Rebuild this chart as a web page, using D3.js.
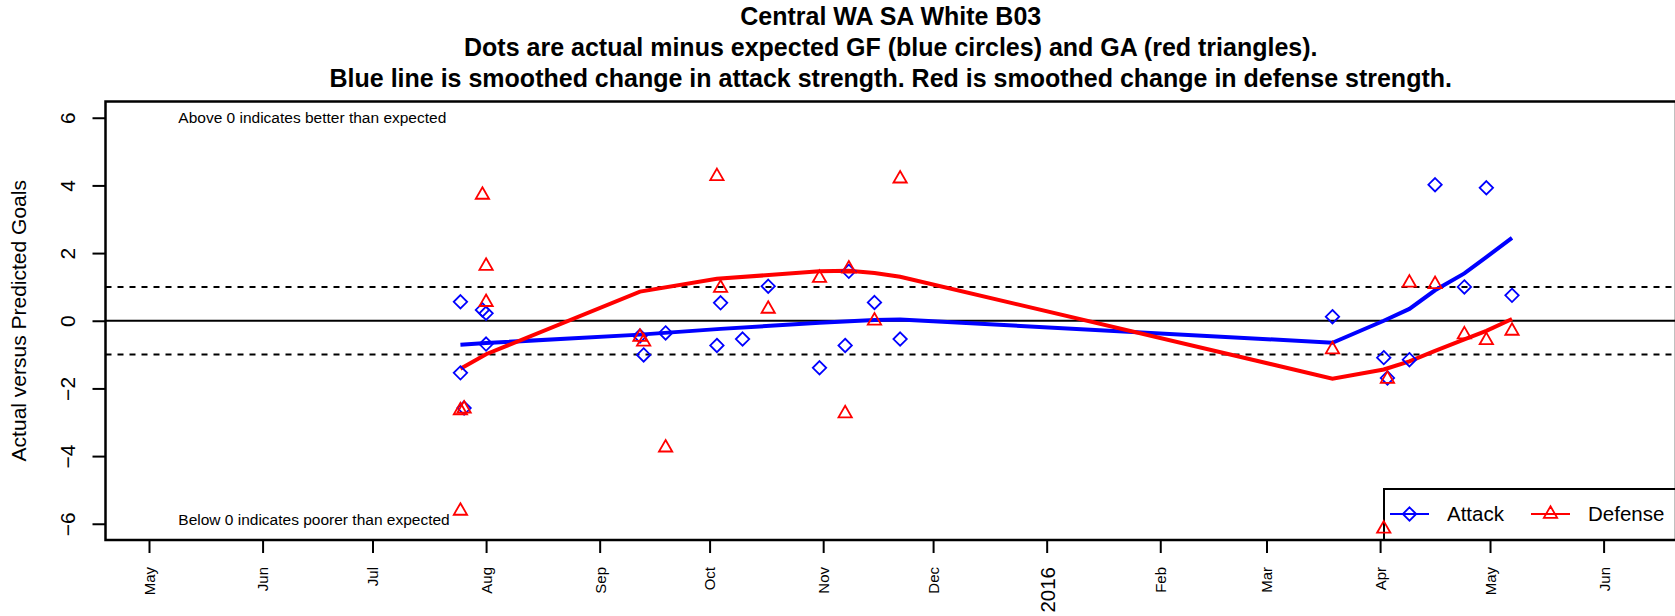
<!DOCTYPE html>
<html>
<head>
<meta charset="utf-8">
<script src="https://cdn.jsdelivr.net/npm/d3@7"></script>
<style>
  body { margin: 0; background: #fff; }
  svg text { font-family: "Liberation Sans", Arial, sans-serif; }
</style>
</head>
<body>
<svg id="chart" width="1675" height="616"></svg>
<script>
// dots: actual minus expected goals for / against
const attackDates = ['2015-07-25', '2015-07-25', '2015-07-26', '2015-07-31', '2015-08-01', '2015-08-01',
    '2015-09-12', '2015-09-13', '2015-09-19', '2015-10-03', '2015-10-04', '2015-10-10', '2015-10-17',
    '2015-10-31', '2015-11-07', '2015-11-08', '2015-11-15', '2015-11-22', '2016-03-19', '2016-04-02',
    '2016-04-03', '2016-04-09', '2016-04-16', '2016-04-24', '2016-04-30', '2016-05-07'];
const attackValues = [0.56, -1.54, -2.58, 0.32, 0.22, -0.69,
    -0.45, -1.01, -0.36, -0.73, 0.53, -0.54, 1.02,
    -1.39, -0.73, 1.46, 0.54, -0.54, 0.12, -1.09,
    -1.69, -1.15, 4.02, 1.0, 3.93, 0.75];

const defenseDates = ['2015-07-25', '2015-07-25', '2015-07-26', '2015-07-31', '2015-08-01', '2015-08-01',
    '2015-09-12', '2015-09-13', '2015-09-19', '2015-10-03', '2015-10-04', '2015-10-17',
    '2015-10-31', '2015-11-07', '2015-11-08', '2015-11-15', '2015-11-22', '2016-03-19', '2016-04-02',
    '2016-04-03', '2016-04-09', '2016-04-16', '2016-04-24', '2016-04-30', '2016-05-07'];
const defenseValues = [-2.65, -5.62, -2.6, 3.72, 1.62, 0.55,
    -0.48, -0.62, -3.75, 4.27, 0.97, 0.35,
    1.26, -2.74, 1.54, 0.0, 4.2, -0.85, -6.15,
    -1.72, 1.12, 1.08, -0.41, -0.58, -0.3];

// smoothed strength changes
const attackLineDates = ['2015-07-25', '2015-08-01', '2015-09-12', '2015-10-04', '2015-10-31', '2015-11-15',
    '2015-11-22', '2016-03-19', '2016-04-02', '2016-04-09', '2016-04-16', '2016-04-24', '2016-04-30', '2016-05-07'];
const attackLineValues = [-0.71, -0.66, -0.41, -0.24, -0.06, 0.02,
    0.04, -0.65, 0.0, 0.35, 0.9, 1.4, 1.88, 2.45];

const defenseLineDates = ['2015-07-25', '2015-08-01', '2015-09-12', '2015-10-03', '2015-10-31', '2015-11-08',
    '2015-11-15', '2015-11-22', '2016-03-19', '2016-04-02', '2016-04-09', '2016-04-16', '2016-04-24', '2016-04-30', '2016-05-07'];
const defenseLineValues = [-1.42, -0.99, 0.86, 1.24, 1.46, 1.48,
    1.41, 1.3, -1.71, -1.44, -1.2, -0.89, -0.55, -0.3, 0.05];

const yTicks = [-6, -4, -2, 0, 2, 4, 6];
const refLines = [-1, 1];
const titleLines = [
    'Central WA SA White B03',
    'Dots are actual minus expected GF (blue circles) and GA (red triangles).',
    'Blue line is smoothed change in attack strength. Red is smoothed change in defense strength.'
];

const parse = d3.utcParse('%Y-%m-%d');
const box = {left: 105.5, right: 1676, top: 101.5, bottom: 540};

const svg = d3.select('#chart');

const x = d3.scaleUtc()
    .domain([parse('2015-05-01'), parse('2016-06-01')])
    .range([149, 1603.6]);
const y = d3.scaleLinear()
    .domain([-6.48, 6.48])
    .range([box.bottom, box.top]);

// titles
svg.append('g')
    .selectAll('text')
    .data(titleLines)
    .enter()
        .append('text')
            .attr('x', (box.left + box.right) / 2)
            .attr('y', (d, i) => 25 + i * 31)
            .attr('text-anchor', 'middle')
            .attr('font-weight', 'bold')
            .attr('font-size', 25)
            .text((d) => d);

// reference lines
svg.append('line')
    .attr('x1', box.left).attr('x2', box.right)
    .attr('y1', y(0)).attr('y2', y(0))
    .attr('stroke', '#000').attr('stroke-width', 2);

svg.selectAll('.ref')
    .data(refLines)
    .enter()
        .append('line')
            .attr('class', 'ref')
            .attr('x1', box.left).attr('x2', box.right)
            .attr('y1', (d) => y(d)).attr('y2', (d) => y(d))
            .attr('stroke', '#000').attr('stroke-width', 2)
            .attr('stroke-dasharray', '6,6');

// y axis
const yAxis = svg.append('g')
    .attr('transform', `translate(${box.left}, 0)`)
    .call(d3.axisLeft(y).tickValues(yTicks).tickSize(13).tickFormat((d) => d < 0 ? '\u2212' + Math.abs(d) : d));
yAxis.select('.domain').remove();
yAxis.selectAll('.tick line').attr('stroke-width', 2);
yAxis.selectAll('.tick text')
    .attr('font-size', 21)
    .attr('fill', '#000')
    .attr('text-anchor', 'middle')
    .attr('dy', null)
    .attr('x', null)
    .attr('transform', `translate(${75 - box.left}, 0) rotate(-90)`);

svg.append('text')
    .attr('transform', `translate(26, ${(box.top + box.bottom) / 2}) rotate(-90)`)
    .attr('text-anchor', 'middle')
    .attr('font-size', 21)
    .text('Actual versus Predicted Goals');

// x axis (months)
const months = d3.utcMonth.range(parse('2015-05-01'), parse('2016-06-02'));
const xAxis = svg.append('g')
    .attr('transform', `translate(0, ${box.bottom})`)
    .call(d3.axisBottom(x).tickValues(months).tickSize(13)
        .tickFormat((d) => d.getUTCMonth() === 0 ? d3.utcFormat('%Y')(d) : d3.utcFormat('%b')(d)));
xAxis.select('.domain').remove();
xAxis.selectAll('.tick line').attr('stroke-width', 2);
xAxis.selectAll('.tick text')
    .attr('font-size', (d) => d.getUTCMonth() === 0 ? 20.5 : 15)
    .attr('fill', '#000')
    .attr('text-anchor', 'end')
    .attr('dy', null)
    .attr('y', null)
    .attr('transform', (d) => {
        const fs = d.getUTCMonth() === 0 ? 20.5 : 15;
        return `translate(${fs * 0.36}, 27) rotate(-90)`;
    });

// annotations
svg.append('text')
    .attr('x', x(parse('2015-05-09')))
    .attr('y', y(6))
    .attr('dy', '0.35em')
    .attr('font-size', 15.5)
    .text('Above 0 indicates better than expected');
svg.append('text')
    .attr('x', x(parse('2015-05-09')))
    .attr('y', y(-6))
    .attr('dy', '0.1em')
    .attr('font-size', 15.5)
    .text('Below 0 indicates poorer than expected');

// smoothed lines
const line = d3.line()
    .x((d) => x(d.date))
    .y((d) => y(d.value));
const toRows = (dates, values) => dates.map((d, i) => ({date: parse(d), value: values[i]}));

svg.append('path')
    .datum(toRows(attackLineDates, attackLineValues))
    .attr('d', line)
    .attr('fill', 'none')
    .attr('stroke', '#0000ff')
    .attr('stroke-width', 4);
svg.append('path')
    .datum(toRows(defenseLineDates, defenseLineValues))
    .attr('d', line)
    .attr('fill', 'none')
    .attr('stroke', '#ff0000')
    .attr('stroke-width', 4);

// legend (drawn under the dots)
const diamond = 'M0,-6.7L6.7,0L0,6.7L-6.7,0Z';
const triangle = 'M0,-7.7L6.65,3.85L-6.65,3.85Z';

const legend = svg.append('g');
legend.append('rect')
    .attr('x', 1384).attr('y', 489)
    .attr('width', 310).attr('height', box.bottom - 489)
    .attr('fill', '#fff')
    .attr('stroke', '#000').attr('stroke-width', 2);
const legendItems = [
    {label: 'Attack', color: '#0000ff', shape: diamond, x0: 1390},
    {label: 'Defense', color: '#ff0000', shape: triangle, x0: 1531}
];
legendItems.forEach((it) => {
    legend.append('line')
        .attr('x1', it.x0).attr('x2', it.x0 + 39)
        .attr('y1', 514).attr('y2', 514)
        .attr('stroke', it.color).attr('stroke-width', 2);
    legend.append('path')
        .attr('d', it.shape)
        .attr('transform', `translate(${it.x0 + 19.5}, 514)`)
        .attr('fill', 'none')
        .attr('stroke', it.color).attr('stroke-width', 1.8);
    legend.append('text')
        .attr('x', it.x0 + 57)
        .attr('y', 514)
        .attr('dy', '0.35em')
        .attr('font-size', 20.5)
        .text(it.label);
});

// markers
svg.append('g')
    .selectAll('path')
    .data(toRows(attackDates, attackValues))
    .enter()
        .append('path')
            .attr('d', diamond)
            .attr('transform', (d) => `translate(${x(d.date)}, ${y(d.value)})`)
            .attr('fill', 'none')
            .attr('stroke', '#0000ff')
            .attr('stroke-width', 1.8);

svg.append('g')
    .selectAll('path')
    .data(toRows(defenseDates, defenseValues))
    .enter()
        .append('path')
            .attr('d', triangle)
            .attr('transform', (d) => `translate(${x(d.date)}, ${y(d.value)})`)
            .attr('fill', 'none')
            .attr('stroke', '#ff0000')
            .attr('stroke-width', 1.8);

// plot box
svg.append('rect')
    .attr('x', box.left).attr('y', box.top)
    .attr('width', box.right - box.left).attr('height', box.bottom - box.top)
    .attr('fill', 'none')
    .attr('stroke', '#000').attr('stroke-width', 2.5);
</script>
</body>
</html>
